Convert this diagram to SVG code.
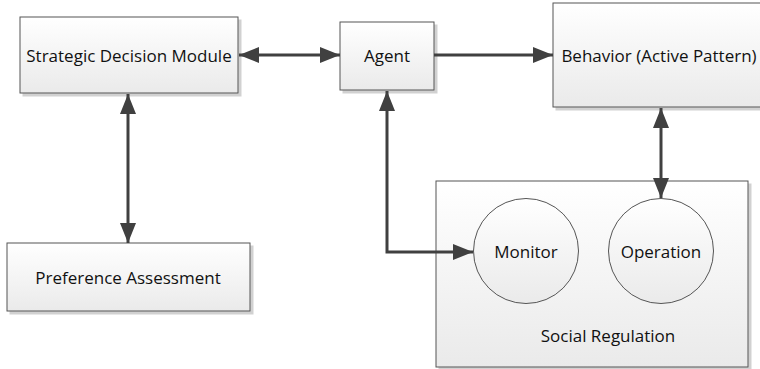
<svg xmlns="http://www.w3.org/2000/svg" width="760" height="369" viewBox="0 0 760 369">
<defs>
<linearGradient id="g" x1="0" y1="0" x2="0" y2="1">
<stop offset="0" stop-color="#ffffff"/>
<stop offset="1" stop-color="#eaeaea"/>
</linearGradient>
<marker id="ah" viewBox="0 0 20 16" refX="20" refY="8" markerWidth="20" markerHeight="16" markerUnits="userSpaceOnUse" orient="auto-start-reverse">
<path d="M0,0 L20,8 L0,16 Z" fill="#404040"/>
</marker>
<filter id="sh" x="-5%" y="-5%" width="115%" height="120%">
<feOffset dx="3" dy="3" in="SourceAlpha" result="o"/>
<feFlood flood-color="#000" flood-opacity="0.18"/>
<feComposite in2="o" operator="in" result="s"/>
<feMerge><feMergeNode in="s"/><feMergeNode in="SourceGraphic"/></feMerge>
</filter>
</defs>
<style>
.box{fill:url(#g);stroke:#555;stroke-width:1;filter:url(#sh)}
.circ{fill:url(#g);stroke:#555;stroke-width:1}
.t{font-family:"Open Sans","Liberation Sans",sans-serif;font-size:17px;fill:#111;text-anchor:middle;dominant-baseline:central}
.c{fill:none;stroke:#404040;stroke-width:3}
</style>
<rect width="760" height="369" fill="#fff"/>
<g id="strategic">
<rect class="box" x="20" y="17" width="218" height="76"/>
<text class="t" x="129" y="55">Strategic Decision Module</text>
</g>
<g id="agent">
<rect class="box" x="340" y="22" width="94" height="68"/>
<text class="t" x="387" y="55">Agent</text>
</g>
<g id="behavior">
<rect class="box" x="553" y="3" width="212" height="104"/>
<text class="t" x="659" y="55">Behavior (Active Pattern)</text>
</g>
<g id="preference">
<rect class="box" x="7" y="243" width="243" height="68"/>
<text class="t" x="128" y="277">Preference Assessment</text>
</g>
<g id="social">
<rect class="box" x="436" y="181" width="312" height="186"/>
<text class="t" x="608" y="335">Social Regulation</text>
</g>
<g id="monitor">
<circle class="circ" cx="526" cy="251" r="52.5"/>
<text class="t" x="526" y="251">Monitor</text>
</g>
<g id="operation">
<circle class="circ" cx="661" cy="251" r="52.5"/>
<text class="t" x="661" y="251">Operation</text>
</g>
<g id="connectors">
<path class="c" d="M239,55 H340" marker-start="url(#ah)" marker-end="url(#ah)"/>
<path class="c" d="M128,94 V243" marker-start="url(#ah)" marker-end="url(#ah)"/>
<path class="c" d="M434,55 H553" marker-end="url(#ah)"/>
<path class="c" d="M387,91 V252 H473" marker-start="url(#ah)" marker-end="url(#ah)"/>
<path class="c" d="M661,108 V198" marker-start="url(#ah)" marker-end="url(#ah)"/>
</g>
</svg>
